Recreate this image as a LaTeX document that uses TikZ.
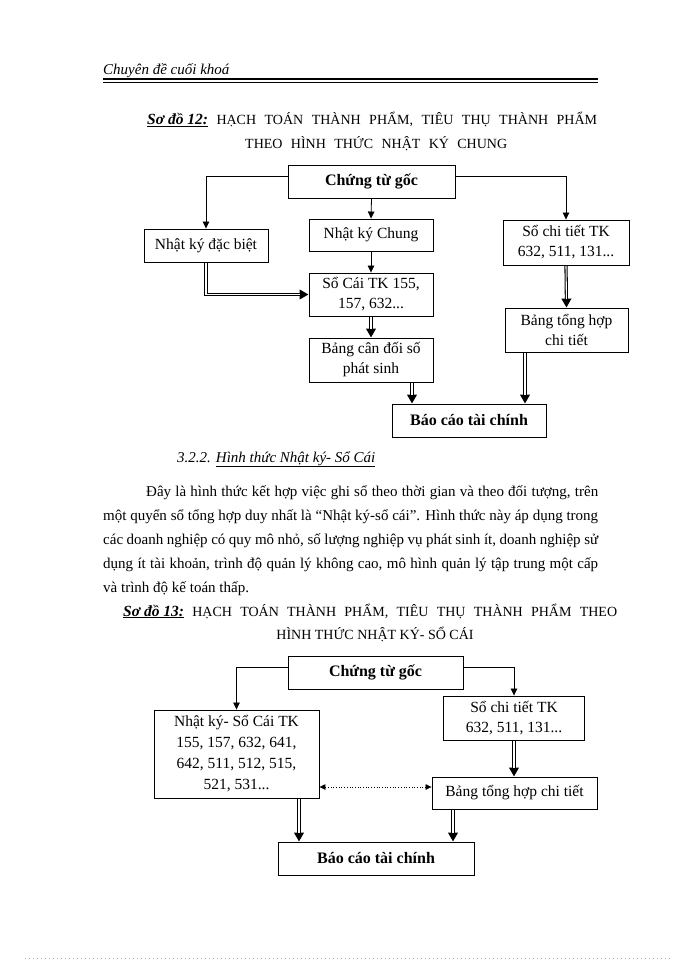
\documentclass[tikz,border=0pt]{standalone}
\usepackage{fontspec}
\setmainfont{Liberation Serif}
\usetikzlibrary{arrows.meta}
\begin{document}
\begin{tikzpicture}[x=1pt,y=-1pt,
  box/.style={draw, line width=0.9pt, inner sep=0pt, align=center, font=\fontsize{15.5}{20}\selectfont},
  bbox/.style={box, font=\fontsize{16}{20}\selectfont\bfseries},
  thinarr/.style={line width=0.8pt, -{Triangle[width=6.5pt,length=7pt]}},
  dblarr/.style={line width=3.2pt, -{Triangle[width=9.5pt,length=9pt]},
    postaction={draw=white, line width=1.1pt, -, shorten >=8.5pt, shorten <=0.6pt}},
  dotarr/.style={dotted, line width=0.7pt, {Triangle[width=5.5pt,length=6pt]}-{Triangle[width=5.5pt,length=6pt]}},
  txt/.style={inner sep=0pt, anchor=base west, font=\fontsize{15}{24}\selectfont},
  ttl/.style={inner sep=0pt, anchor=base west, font=\fontsize{14}{18}\selectfont},
]
\useasboundingbox (0,0) rectangle (700,960);
\fill[white] (0,0) rectangle (700,960);

% header
\node[inner sep=0pt, anchor=base west, font=\fontsize{15}{18}\selectfont\itshape] (hdr) at (103,75) {Chuyên đề cuối khoá};
\draw[line width=1.5pt] (103,79) -- (598,79);
\draw[line width=0.6pt] (103,82) -- (598,82);

% title 1
\node[ttl] (t1a) at (147,125) {\makebox[450pt][s]{\mbox{\fontsize{15.5}{18}\selectfont\bfseries\itshape\underline{Sơ đồ 12:}} HẠCH TOÁN THÀNH PHẨM, TIÊU THỤ THÀNH PHẨM}};
\node[ttl] (t1b) at (245,149) {\makebox[262pt][s]{THEO HÌNH THỨC NHẬT KÝ CHUNG}};

% diagram 1
\node[bbox, minimum width=167pt, minimum height=33pt] (ctg1) at (371.5,181.5) {Chứng từ gốc};
\node[box, minimum width=124pt, minimum height=33pt] (nkdb) at (206,245.5) {Nhật ký đặc biệt};
\node[box, minimum width=124pt, minimum height=32pt] (nkc) at (371,235) {Nhật ký Chung};
\node[box, minimum width=126pt, minimum height=45pt] (sct1) at (566,242.5) {Sổ chi tiết TK\\632, 511, 131...};
\node[box, minimum width=124pt, minimum height=43pt] (sc) at (371,294.5) {Sổ Cái TK 155,\\157, 632...};
\node[box, minimum width=124pt, minimum height=44pt] (bcd) at (371,360) {Bảng cân đối số\\phát sinh};
\node[box, minimum width=123pt, minimum height=44pt] (bth1) at (566.5,330) {Bảng tổng hợp\\chi tiết};
\node[bbox, minimum width=154pt, minimum height=33pt] (bctc1) at (469,420.5) {Báo cáo tài chính};

\draw[thinarr] ([yshift=5.5pt]ctg1.west) -| (nkdb.north);
\draw[thinarr] ([yshift=5.5pt]ctg1.east) -| (sct1.north);
\draw[thinarr] (ctg1.south) -- (nkc.north);
\draw[thinarr] (nkc.south) -- (sc.north);
\draw[dblarr] (nkdb.south) |- (sc.west);
\draw[dblarr] (sct1.south) -- (bth1.north);
\draw[dblarr] (sc.south) -- (bcd.north);
\coordinate (a1) at ([xshift=41pt]bcd.south);
\coordinate (a2) at ([xshift=-41.5pt]bth1.south);
\draw[dblarr] (a1) -- (a1 |- bctc1.north);
\draw[dblarr] (a2) -- (a2 |- bctc1.north);

% section text
\node[txt, font=\fontsize{15}{24}\selectfont\itshape] (h322) at (177,462) {3.2.2. \underline{Hình thức Nhật ký- Sổ Cái}};
\node[txt] (p1) at (146,496) {\makebox[452pt][s]{Đây là hình thức kết hợp việc ghi sổ theo thời gian và theo đối tượng, trên}};
\node[txt] (p2) at (103,520) {\makebox[495pt][s]{một quyển sổ tổng hợp duy nhất là “Nhật ký-sổ cái”. Hình thức này áp dụng trong}};
\node[txt] (p3) at (103,544) {\makebox[495pt][s]{các doanh nghiệp có quy mô nhỏ, số lượng nghiệp vụ phát sinh ít, doanh nghiệp sử}};
\node[txt] (p4) at (103,568) {\makebox[495pt][s]{dụng ít tài khoản, trình độ quản lý không cao, mô hình quản lý tập trung một cấp}};
\node[txt] (p5) at (103,592) {và trình độ kế toán thấp.};

% title 2
\node[ttl] (t2a) at (123,616) {\makebox[494pt][s]{\mbox{\fontsize{15.5}{18}\selectfont\bfseries\itshape\underline{Sơ đồ 13:}} HẠCH TOÁN THÀNH PHẨM, TIÊU THỤ THÀNH PHẨM THEO}};
\node[ttl, anchor=base] (t2b) at (375,639) {HÌNH THỨC NHẬT KÝ- SỔ CÁI};

% diagram 2
\node[bbox, minimum width=175pt, minimum height=33pt] (ctg2) at (375.5,672.5) {Chứng từ gốc};
\node[box, minimum width=165pt, minimum height=88pt, font=\fontsize{15.5}{21}\selectfont] (nksc) at (236.5,754) {Nhật ký- Sổ Cái TK\\155, 157, 632, 641,\\642, 511, 512, 515,\\521, 531...};
\node[box, minimum width=141pt, minimum height=44pt] (sct2) at (514,718) {Sổ chi tiết TK\\632, 511, 131...};
\node[box, minimum width=165pt, minimum height=32pt] (bth2) at (514.5,793) {Bảng tổng hợp chi tiết};
\node[bbox, minimum width=196pt, minimum height=33pt] (bctc2) at (376,858.5) {Báo cáo tài chính};

\draw[thinarr] ([yshift=5.5pt]ctg2.west) -| (nksc.north);
\draw[thinarr] ([yshift=5.5pt]ctg2.east) -| (sct2.north);
\draw[dblarr] (sct2.south) -- (sct2.south |- bth2.north);
\draw[dotarr] ([yshift=-33pt]nksc.east) -- ([yshift=6pt]bth2.west);
\coordinate (b1) at ([xshift=62.5pt]nksc.south);
\coordinate (b2) at ([xshift=-61.5pt]bth2.south);
\draw[dblarr] (b1) -- (b1 |- bctc2.north);
\draw[dblarr] (b2) -- (b2 |- bctc2.north);

% bottom dotted rule
\draw[gray!60, line width=0.6pt, dash pattern=on 1pt off 3pt] (25,958) -- (672,958);
\end{tikzpicture}
\end{document}
